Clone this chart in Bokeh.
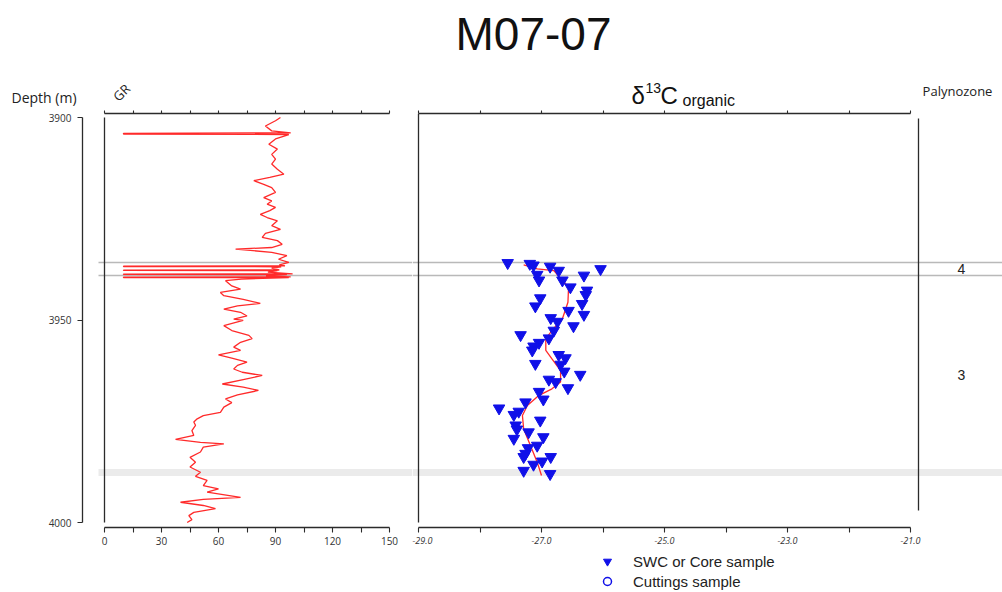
from bokeh.plotting import figure
from bokeh.models import (Range1d, LinearAxis, FixedTicker, Legend, LegendItem,
                          PrintfTickFormatter, Span)
from bokeh.layouts import row, column
from bokeh.embed import file_html
from bokeh.resources import INLINE
from bokeh.core.properties import value

# ---------------------------------------------------------------- data
# Gamma-ray log (API) against depth (m)
gr_depth = [3900.0, 3900.8, 3902.1, 3903.3, 3903.8, 3903.9, 3904.1, 3904.2, 3905.3, 3906.6,
            3907.8, 3909.1, 3910.3, 3911.5, 3912.8, 3914.0, 3914.8, 3915.6, 3916.5, 3917.3,
            3918.5, 3919.8, 3920.6, 3921.4, 3922.2, 3923.0, 3923.9, 3924.7, 3925.5, 3926.7,
            3927.6, 3928.6, 3929.6, 3930.4, 3931.3, 3932.1, 3932.5, 3933.3, 3934.1, 3935.0,
            3935.8, 3936.4, 3936.65, 3936.7, 3936.8, 3936.85, 3937.2, 3937.65, 3937.7, 3937.75,
            3937.8, 3938.2, 3938.6, 3938.65, 3938.75, 3938.8, 3939.1, 3939.35, 3939.4, 3939.5,
            3939.55, 3939.9, 3940.3, 3941.6, 3942.4, 3943.2, 3944.0, 3944.9, 3945.9, 3946.5,
            3947.3, 3948.1, 3949.0, 3949.8, 3950.1, 3951.4, 3952.6, 3953.8, 3954.6, 3955.5,
            3956.7, 3957.5, 3958.6, 3959.4, 3960.4, 3961.2, 3962.1, 3962.9, 3963.7, 3964.7,
            3965.8, 3966.6, 3967.4, 3968.5, 3969.5, 3970.4, 3971.5, 3972.8, 3973.6, 3974.4,
            3975.2, 3976.0, 3977.3, 3978.5, 3979.5, 3980.2, 3980.6, 3981.4, 3982.6, 3983.9,
            3985.1, 3986.3, 3987.6, 3988.6, 3989.6, 3990.9, 3991.7, 3992.5, 3993.8, 3994.3,
            3995.0, 3995.8, 3996.6, 3997.5, 3998.3, 3999.3, 4000.0]
gr_value = [92.6, 90, 84.7, 88, 98, 10, 10, 97, 90, 86.5,
            91, 88, 90, 88, 91, 94.4, 87, 78.6, 83.8, 88,
            90, 83.8, 88, 85.6, 90, 87, 82, 85.6, 91, 88,
            92.6, 84.7, 83, 91, 93.5, 88, 69, 88, 96, 91.6,
            97, 92, 95, 10, 10, 93, 88, 92, 10, 10,
            91, 86, 99, 10, 10, 96, 85, 98, 10, 10,
            97, 72, 63.7, 67, 71.6, 61, 62.8, 73, 82, 70,
            62.8, 71.6, 75, 68, 73, 62.8, 67, 76, 77.7, 71.6,
            68, 71.6, 60, 67, 75, 70, 68, 72.5, 83, 73,
            62, 73, 81, 70, 63.7, 67, 62.8, 61, 52, 48.8,
            47, 47.9, 46, 47, 37.4, 50.5, 62.8, 52, 50.5, 45,
            47.9, 45, 50.5, 47.9, 54, 52, 60, 54, 71.6, 52,
            40, 52, 58.4, 47, 44.4, 46, 43.5]

# Organic carbon isotopes (per mil VPDB), SWC / core samples
swc_depth = [3935.9, 3936.1, 3936.5, 3936.8, 3937.8, 3937.4, 3938.8, 3940.2, 3940.2, 3939.0,
             3941.9, 3942.7, 3943.8, 3944.6, 3946.6, 3946.0, 3947.7, 3948.7, 3949.5, 3950.4,
             3951.5, 3952.6, 3953.7, 3954.5, 3955.6, 3956.5, 3957.5, 3958.6, 3959.4, 3960.8,
             3961.0, 3962.7, 3963.5, 3964.7, 3965.3, 3966.8, 3967.7, 3969.6, 3970.3, 3971.8,
             3972.6, 3973.4, 3974.8, 3976.0, 3977.0, 3977.7, 3978.9, 3979.3, 3981.0, 3981.6,
             3983.0, 3983.8, 3983.8, 3984.9, 3985.7, 3987.2, 3988.0]
swc_d13c = [-27.55, -27.19, -27.13, -26.86, -26.72, -26.04, -27.07, -27.04, -26.66, -26.31,
            -26.53, -26.26, -26.28, -27.02, -27.10, -26.34, -26.56, -26.31, -26.85, -26.74,
            -26.48, -26.80, -27.34, -26.88, -27.04, -27.13, -27.15, -26.72, -26.61, -27.10,
            -26.69, -26.63, -26.37, -26.88, -26.77, -26.57, -27.04, -26.97, -27.26, -27.69,
            -27.37, -27.45, -27.02, -27.42, -27.40, -27.21, -26.97, -27.45, -27.07, -27.22,
            -27.26, -27.29, -26.85, -26.99, -27.13, -27.29, -26.86]

# Cuttings samples (none in this interval)
cut_depth = []
cut_d13c = []

# Smoothed isotope trend
trend_depth = [3936.4, 3937.4, 3937.8, 3940.2, 3941.9, 3945.6, 3949.7, 3952.6, 3954.6, 3957.5,
               3959.6, 3962.5, 3965.3, 3967.0, 3968.6, 3971.1, 3973.6, 3976.9, 3981.0, 3985.1,
               3988.4]
trend_d13c = [-27.29, -27.07, -26.80, -26.66, -26.56, -26.57, -26.66, -26.83, -26.93, -26.93,
              -26.83, -26.69, -26.69, -26.83, -27.04, -27.23, -27.31, -27.29, -27.18, -27.07,
              -27.00]

# Correlation horizons and palynozones
horizon_depths = [3935.8, 3939.0]
band_depth = 3987.65
zone_names = ["4", "3"]
zone_depths = [3937.3, 3963.7]

depth_ticks = [3900, 3950, 4000]
gr_ticks = [0, 30, 60, 90, 120, 150]
gr_minor = [15, 45, 75, 105, 135]
d13c_ticks = [-29, -27, -25, -23, -21]
d13c_minor = [-28, -26, -24, -22]

# ---------------------------------------------------------------- layout
W, H = 1002, 592
HEAD = 110                     # header strip with titles
FOOT = 42                      # footer strip with the legend
ROW_H = H - HEAD - FOOT
TOP_B = 3                      # border above the log frames
FRAME_H = 414
BOT_B = ROW_H - TOP_B - FRAME_H
DEPTH_AXIS_X = 82              # left edge of the log frame
SPLIT = 412                    # left edge of the isotope frame
PX_PER_M = 4.05
PX_PER_API = 1.9
PX_PER_PERMIL = 61.5
GR_ZERO_X = 104
D13C_MIN_X = 418
FRAME_TOP = HEAD + TOP_B

y_top = 3900 - (117 - FRAME_TOP) / PX_PER_M
y_bot = y_top + FRAME_H / PX_PER_M
gr_lo = -(GR_ZERO_X - DEPTH_AXIS_X) / PX_PER_API
gr_hi = gr_lo + (SPLIT - DEPTH_AXIS_X) / PX_PER_API
c_lo = -29 - (D13C_MIN_X - SPLIT) / PX_PER_PERMIL
c_hi = c_lo + (W - SPLIT) / PX_PER_PERMIL


def ypos(py):
    return y_top + (py - FRAME_TOP) / PX_PER_M


def x1pos(px):
    return gr_lo + (px - DEPTH_AXIS_X) / PX_PER_API


def x2pos(px):
    return c_lo + (px - SPLIT) / PX_PER_PERMIL


AXIS_COLOR = "#2b2b2b"
TICK_FONT = "Open Sans"
RED = "#ff2a2a"
BLUE = "#1010e8"
HORIZON = "#b9b9b9"
BAND = "#ebebeb"


def bare(f):
    f.outline_line_color = None
    f.xgrid.visible = False
    f.ygrid.visible = False
    f.background_fill_color = "white"
    f.border_fill_color = "white"
    return f


def style_axis(ax, tick_out=4, labels=True, size="10px", italic=False):
    ax.axis_line_color = AXIS_COLOR
    ax.axis_line_width = 1.3
    ax.major_tick_line_color = AXIS_COLOR
    ax.minor_tick_line_color = AXIS_COLOR
    ax.major_tick_line_width = 1.1
    ax.minor_tick_line_width = 1.1
    ax.major_tick_in = 0
    ax.major_tick_out = tick_out
    ax.minor_tick_in = 0
    ax.minor_tick_out = tick_out
    ax.major_label_text_font = TICK_FONT
    if labels:
        ax.major_label_text_font_size = size
        ax.major_label_text_color = "#333333"
        ax.major_label_standoff = 4
        if italic:
            ax.major_label_text_font_style = "italic"
    else:
        ax.major_label_text_font_size = "0px"
        ax.major_label_text_color = None
        ax.major_label_standoff = 0


def make_fig(width, border_left, x_range):
    f = figure(width=width, height=ROW_H, x_range=x_range, y_range=Range1d(y_bot, y_top),
               x_axis_location=None, y_axis_location=None,
               toolbar_location=None, output_backend="svg",
               min_border_left=border_left, min_border_right=0,
               min_border_top=TOP_B, min_border_bottom=BOT_B)
    return bare(f)


# ---------------------------------------------------------------- GR panel
p1 = make_fig(SPLIT, DEPTH_AXIS_X, Range1d(gr_lo, gr_hi))

for d in horizon_depths:
    p1.segment(x0=x1pos(98), x1=gr_hi, y0=d, y1=d, line_color=HORIZON, line_width=1.5)
p1.segment(x0=x1pos(98), x1=gr_hi, y0=band_depth, y1=band_depth,
           line_color=BAND, line_width=7)

depth_axis = LinearAxis(ticker=FixedTicker(ticks=depth_ticks), bounds=(3900, 4000))
style_axis(depth_axis, tick_out=5, size="10px")
depth_axis.major_label_standoff = 6
p1.add_layout(depth_axis, "left")

gr_bottom = LinearAxis(ticker=FixedTicker(ticks=gr_ticks, minor_ticks=gr_minor), bounds=(0, 150))
style_axis(gr_bottom, tick_out=5, size="10px")
p1.add_layout(gr_bottom, "below")

gr_top = LinearAxis(ticker=FixedTicker(ticks=gr_ticks, minor_ticks=gr_minor), bounds=(0, 150))
style_axis(gr_top, tick_out=3, labels=False)
p1.add_layout(gr_top, "above")

p1.segment(x0=0, x1=0, y0=3900, y1=4000, line_color=AXIS_COLOR, line_width=1.3)
p1.line(gr_value, gr_depth, line_color=RED, line_width=1.3)

# ---------------------------------------------------------------- isotope panel
p2 = make_fig(W - SPLIT, 0, Range1d(c_lo, c_hi))

for d in horizon_depths:
    p2.add_layout(Span(location=d, dimension="width", line_color=HORIZON,
                       line_width=1.5, level="underlay"))
p2.add_layout(Span(location=band_depth, dimension="width", line_color=BAND,
                   line_width=7, level="underlay"))

c_bottom = LinearAxis(ticker=FixedTicker(ticks=d13c_ticks, minor_ticks=d13c_minor),
                      bounds=(-29, -21), formatter=PrintfTickFormatter(format="%.1f"))
style_axis(c_bottom, tick_out=5, size="9px", italic=True)
p2.add_layout(c_bottom, "below")

c_top = LinearAxis(ticker=FixedTicker(ticks=list(range(-29, -20))), bounds=(-29, -21))
style_axis(c_top, tick_out=3, labels=False)
p2.add_layout(c_top, "above")

p2.segment(x0=-29, x1=-29, y0=y_top, y1=4000, line_color=AXIS_COLOR, line_width=1.3)
p2.segment(x0=x2pos(918), x1=x2pos(918), y0=ypos(118), y1=ypos(510),
           line_color=AXIS_COLOR, line_width=1.3)

p2.line(trend_d13c, trend_depth, line_color=RED, line_width=1.3)
p2.scatter(swc_d13c, swc_depth, marker="inverted_triangle", size=11.5,
           fill_color=BLUE, line_color=BLUE)
p2.scatter(cut_d13c, cut_depth, marker="circle", size=8,
           fill_color=None, line_color=BLUE, line_width=1.5)

p2.text(x=[x2pos(961)] * len(zone_names), y=zone_depths, text=zone_names,
        text_font=value("Liberation Sans"), text_font_size="14px", text_color="#222222",
        text_align="center", text_baseline="middle")

# ---------------------------------------------------------------- header (titles)
head = bare(figure(width=W, height=HEAD, x_range=Range1d(0, W), y_range=Range1d(0, HEAD),
                   x_axis_location=None, y_axis_location=None, min_border=0,
                   toolbar_location=None, output_backend="svg"))


def head_text(px, py, txt, font, size, color="#111111", align="left",
              baseline="alphabetic", angle=0.0):
    head.text(x=[px], y=[HEAD - py], text=[txt], text_font=value(font),
              text_font_size=size, text_color=color, text_align=align,
              text_baseline=baseline, angle=angle)


head_text(533, 33, "M07-07", "Liberation Sans", "46px", align="center", baseline="middle")
head_text(11, 97, "Depth (m)", TICK_FONT, "14px", color="#222222", baseline="middle")
# "GR" reads upwards to the right (counter-clockwise rotation)
head_text(121, 92, "GR", TICK_FONT, "13px", color="#222222", align="center",
          baseline="middle", angle=0.785)
head_text(631, 95, "δ", "Liberation Sans", "24px")
head_text(645, 87, "13", "Liberation Sans", "14px")
head_text(660, 95, "C", "Liberation Sans", "24px")
head_text(682, 100, "organic", "Liberation Sans", "16px")
head_text(957, 90, "Palynozone", TICK_FONT, "13px", color="#222222", align="center",
          baseline="middle")

# ---------------------------------------------------------------- footer (legend)
foot = bare(figure(width=W, height=FOOT, x_range=Range1d(0, W), y_range=Range1d(0, FOOT),
                   x_axis_location=None, y_axis_location=None, min_border=0,
                   toolbar_location=None, output_backend="svg"))
# key glyphs for the legend only; their single point lies outside the visible range
swc_key = foot.scatter(x=[-50], y=[-50], marker="inverted_triangle",
                       fill_color=BLUE, line_color=BLUE)
cut_key = foot.scatter(x=[-50], y=[-50], marker="circle", fill_color=None,
                       line_color=BLUE, line_width=1.5)
legend = Legend(items=[LegendItem(label="SWC or Core sample", renderers=[swc_key]),
                       LegendItem(label="Cuttings sample", renderers=[cut_key])],
                location=(594, 1), glyph_width=26, glyph_height=20, spacing=0,
                padding=0, margin=0, label_standoff=13, label_height=20,
                label_text_font="Liberation Sans", label_text_font_size="15px",
                label_text_color="#222222", border_line_color=None,
                background_fill_alpha=0)
foot.add_layout(legend)

layout = column(head, row(p1, p2, spacing=0), foot, spacing=0)
open("out.html", "w").write(file_html(layout, INLINE, title="M07-07"))
